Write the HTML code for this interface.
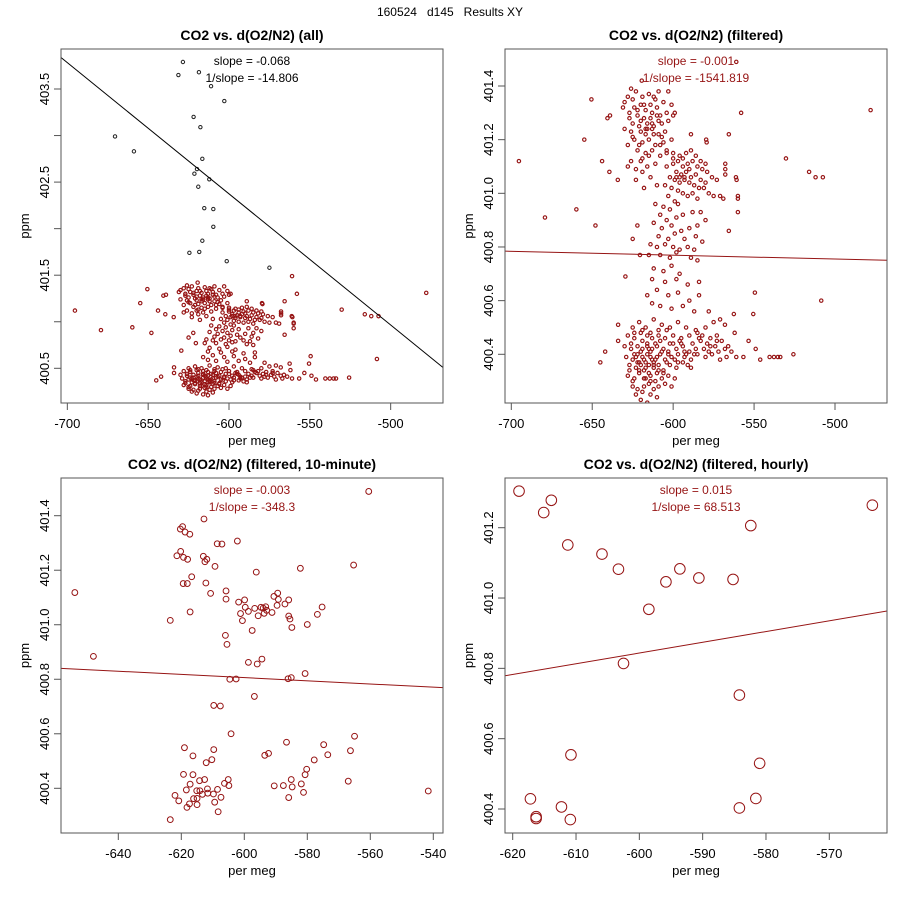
<!DOCTYPE html>
<html><head><meta charset="utf-8"><style>
html,body{margin:0;padding:0;background:#fff}
svg{display:block;font-family:"Liberation Sans",sans-serif}
</style></head><body>
<svg id="chart" width="900" height="900" viewBox="0 0 900 900" xmlns="http://www.w3.org/2000/svg">
<text x="450" y="16" text-anchor="middle" font-size="12" fill="#000" xml:space="preserve">160524   d145   Results XY</text>
</svg>
<script>
// ---- data ----
const filteredX = [-695.3,-679.2,-659.8,-654.9,-650.5,-648,-643.9,-639.4,-640.6,-639,-634.2,-642,-645,-634,-634,-629.5,-625,-620.5,-622.1,-558,-478,-530.3,-516,-512,-507.5,-508.5,-549.5,-550.5,-553.4,-549,-546.2,-540.4,-537.7,-535.3,-533.8,-525.7,-561,-556.6,-565.6,-579.6,-579.3,-589,-567.8,-567.8,-567.8,-561.2,-560.8,-560,-560,-560,-565.6,-562.5,-562,-561,-619.4,
-626,-623,-619,-615,-612,-609,-603,-628,-630,-624,-620,-617,-614,-610,-606,-601,-599,-631,-627,-622,-618,-613,-608,-604,-600,-625,-621,-616,-612,-607,-603,-630,-626,-620,-617,-613,-609,-605,-624,-619,-615,-611,-606,-601,-628,-622,-617,-613,-608,-604,-626,-620,-616,-611,-619,-623,-614,-618,-610,-604,-600,-628,
-604,-600,-597,-594,-591,-588,-585,-582,-579,-576,-573,-598,-595,-592,-589,-586,-583,-580,-602,-599,-596,-593,-590,-587,-584,-581,-605,-601,-597,-594,-591,-588,-585,-578,-575,-571,-569,-603,-599,-596,-592,-589,-594,-600,-586,-590,-593,-596,-598,-583,-580,
-611,-606,-602,-597,-608,-604,-598,-594,-588,-583,-612,-607,-601,-595,-590,-585,-580,-609,-603,-599,-593,-586,-582,-614,-610,-605,-600,-596,-591,-587,-615,-608,-602,-598,-589,-585,-612,-606,-601,-596,-613,-605,-598,-591,-584,-610,-603,-597,-590,-584,-616,-613,-608,-601,-594,-587,-578,
-625,-621,-617,-612,-607,-602,-597,-592,-586,-580,-575,-571,-568,-628,-624,-620,-616,-613,-609,-605,-600,-595,-590,-585,-582,-577,-573,-570,-566,-630,-626,-622,-619,-616,-613,-610,-606,-603,-598,-594,-590,-586,-581,-577,-572,-568,-564,-629,-625,-622,-619,-617,-614,-611,-608,-605,-601,-597,-593,-589,-585,-580,-576,-571,-567,-627,-623,-620,-618,-615,-612,-609,-606,-602,-598,-594,-628,-624,-621,-617,-614,-611,-607,-603,-599,-589,-625,-622,-618,-615,-612,-609,-605,-601,-623,-619,-614,-610,-616,-620,-613,-618,-616,-614,-612,-610,-620,-615,-622,
-626,-624,-621,-619,-617,-615,-613,-611,-609,-607,-604,-602,-599,-596,-593,-591,-588,-583,-579,-574,-627,-625,-623,-621,-618,-616,-614,-612,-610,-608,-606,-603,-600,-597,-595,-592,-587,-584,-578,-573,-624,-619,-614,-609,-604,
-627,-625,-622,-620,-618,-616,-614,-611,-609,-607,-625,-621,-617,-615,-612,-610,-623,-619,-613,-608];
const filteredY = [401.12,400.91,400.94,401.20,401.35,400.88,401.12,401.08,401.28,401.29,401.05,400.41,400.37,400.51,400.45,400.69,400.83,400.77,400.88,401.30,401.31,401.13,401.08,401.06,401.06,400.60,400.63,400.55,400.45,400.42,400.38,400.39,400.39,400.39,400.39,400.40,400.39,400.39,401.22,401.20,401.19,401.22,401.11,401.09,401.07,401.06,401.05,400.99,400.98,400.93,400.86,400.55,400.48,401.49,401.42,
401.39,401.38,401.36,401.37,401.36,401.38,401.38,401.36,401.34,401.32,401.33,401.31,401.33,401.32,401.34,401.33,401.30,401.32,401.30,401.29,401.28,401.30,401.29,401.30,401.29,401.26,401.25,401.26,401.25,401.26,401.27,401.24,401.23,401.23,401.22,401.24,401.22,401.23,401.20,401.19,401.20,401.18,401.19,401.20,401.18,401.16,401.15,401.16,401.14,401.15,401.12,401.12,401.10,401.11,401.08,401.05,401.06,401.02,401.03,401.16,401.13,401.10,
401.10,401.11,401.12,401.10,401.11,401.12,401.10,401.09,401.08,401.06,401.05,401.08,401.07,401.08,401.06,401.07,401.05,401.04,401.06,401.05,401.04,401.05,401.04,401.03,401.02,401.02,401.03,401.02,401.01,401.00,400.99,401.00,400.98,401.00,400.99,400.99,400.98,400.99,400.97,401.14,401.15,401.16,401.13,401.15,401.14,401.09,401.06,401.06,401.06,401.12,401.11,
400.96,400.95,400.94,400.96,400.92,400.90,400.91,400.92,400.93,400.93,400.89,400.87,400.88,400.86,400.87,400.88,400.90,400.84,400.83,400.85,400.83,400.84,400.82,400.81,400.80,400.81,400.80,400.79,400.80,400.79,400.77,400.77,400.76,400.78,400.76,400.75,400.72,400.71,400.73,400.70,400.68,400.67,400.68,400.66,400.67,400.64,400.62,400.63,400.60,400.62,400.62,400.59,400.58,400.57,400.58,400.56,400.56,
400.50,400.52,400.50,400.53,400.51,400.50,400.52,400.50,400.49,400.50,400.52,400.53,400.51,400.47,400.46,400.48,400.47,400.46,400.47,400.46,400.47,400.46,400.47,400.48,400.47,400.46,400.45,400.45,400.43,400.43,400.42,400.43,400.42,400.44,400.42,400.43,400.42,400.41,400.42,400.43,400.41,400.42,400.42,400.43,400.41,400.42,400.41,400.39,400.38,400.40,400.39,400.37,400.39,400.38,400.40,400.38,400.39,400.40,400.39,400.38,400.40,400.39,400.40,400.38,400.39,400.36,400.35,400.36,400.34,400.36,400.35,400.36,400.34,400.36,400.35,400.37,400.32,400.31,400.33,400.31,400.32,400.30,400.31,400.32,400.31,400.35,400.28,400.27,400.28,400.29,400.27,400.28,400.29,400.28,400.25,400.26,400.25,400.24,400.22,400.23,400.21,400.38,400.40,400.41,400.37,400.39,400.41,400.33,400.37,
400.44,400.40,400.37,400.45,400.35,400.42,400.38,400.44,400.34,400.41,400.37,400.44,400.38,400.45,400.41,400.36,400.44,400.45,400.44,400.43,400.34,400.30,400.39,400.34,400.31,400.43,400.30,400.36,400.33,400.45,400.33,400.40,400.44,400.37,400.44,400.40,400.40,400.46,400.41,400.47,400.48,400.49,400.48,400.49,400.49,
401.28,401.35,401.31,401.27,401.33,401.24,401.28,401.35,401.27,401.21,401.21,401.18,401.24,401.14,401.22,401.29,401.09,401.13,401.26,401.18];
const outlierX = [-628.5,-631.3,-618.6,-611.1,-602.9,-621.9,-617.7,-670.5,-658.8,-616.5,-619.8,-621.4,-612.2,-619,-615.3,-609.7,-609.7,-616.5,-624.5,-618.4,-601.4,-575];
const outlierY = [403.79,403.65,403.68,403.53,403.37,403.2,403.09,402.99,402.83,402.75,402.64,402.59,402.53,402.45,402.22,402.21,402.02,401.87,401.74,401.75,401.65,401.58];
const tenMinX = [-653.8,-647.9,-623.5,-619.6,-620.3,-618.8,-617.3,-620.2,-621.4,-619.3,-618.0,-612.8,-608.6,-607.1,-602.2,-619.4,-618.1,-616.7,-612.2,-613.0,-612.5,-611.9,-609.3,-610.7,-617.2,-605.8,-605.8,-606.0,-605.5,-601.8,-601.2,-599.9,-599.7,-598.7,-600.6,-597.5,-596.7,-595.6,-594.7,-594.0,-593.2,-593.7,-592.9,-591.2,-590.6,-589.4,-589.2,-589.6,-587.1,-585.9,-585.9,-585.5,-584.9,-596.2,-582.2,-580.0,-576.8,-575.3,-565.3,-560.5,-598.7,-595.9,-594.4,-604.6,-602.6,-596.8,-609.7,-607.6,-586.1,-585.1,-580.7,-604.2,-619.0,-616.3,-609.7,-610.3,-612.1,-586.6,-574.8,-573.5,-577.8,-566.3,-565.0,-593.5,-592.3,-619.3,-616.3,-617.2,-614.2,-612.6,-618.4,-615.1,-611.7,-608.5,-606.3,-605.1,-604.9,-622.0,-620.8,-618.2,-617.4,-616.1,-615.0,-615.0,-613.3,-611.6,-609.8,-609.4,-607.4,-608.3,-623.5,-590.5,-587.6,-585.1,-584.8,-581.9,-581.2,-585.9,-580.7,-580.2,-567.0,-541.6,-614.1];
const tenMinY = [401.118,400.884,401.016,401.36,401.351,401.34,401.332,401.269,401.253,401.247,401.24,401.388,401.297,401.296,401.307,401.151,401.151,401.176,401.153,401.251,401.231,401.24,401.214,401.115,401.047,401.124,401.094,400.961,400.928,401.083,401.041,401.091,401.064,401.049,401.015,400.979,401.06,401.033,401.064,401.061,401.066,401.042,401.053,401.045,401.104,401.116,401.093,401.071,401.076,401.091,401.032,401.021,400.990,401.193,401.207,401.001,401.038,401.065,401.219,401.489,400.862,400.856,400.874,400.80,400.801,400.737,400.704,400.702,400.802,400.806,400.821,400.60,400.549,400.519,400.542,400.505,400.494,400.569,400.56,400.523,400.504,400.538,400.591,400.521,400.528,400.451,400.45,400.415,400.428,400.432,400.394,400.391,400.398,400.396,400.418,400.432,400.41,400.374,400.354,400.33,400.343,400.362,400.363,400.34,400.378,400.382,400.379,400.349,400.367,400.314,400.285,400.409,400.41,400.432,400.405,400.416,400.385,400.366,400.45,400.47,400.426,400.39,400.391];
const hourlyX = [-619.0,-615.1,-613.9,-611.3,-605.9,-603.3,-602.5,-598.5,-595.8,-593.6,-590.6,-585.2,-582.4,-563.2,-584.2,-581.0,-581.6,-584.2,-610.8,-617.2,-616.3,-616.3,-612.3,-610.9];
const hourlyY = [401.304,401.243,401.278,401.151,401.125,401.082,400.814,400.968,401.046,401.083,401.057,401.053,401.206,401.264,400.724,400.53,400.43,400.403,400.554,400.429,400.378,400.373,400.406,400.37];
const xTicks1 = [-700,-650,-600,-550,-500];
const yTicks1 = [400.5,401,401.5,402,402.5,403,403.5];
const yLabels1 = ["400.5","","401.5","","402.5","","403.5"];
const xTicks2 = [-700,-650,-600,-550,-500];
const yTicks2 = [400.4,400.6,400.8,401.0,401.2,401.4];
const yLabels2 = ["400.4","400.6","400.8","401.0","401.2","401.4"];
const xTicks3 = [-640,-620,-600,-580,-560,-540];
const yTicks3 = [400.4,400.6,400.8,401.0,401.2,401.4];
const yLabels3 = ["400.4","400.6","400.8","401.0","401.2","401.4"];
const xTicks4 = [-620,-610,-600,-590,-580,-570];
const yTicks4 = [400.4,400.6,400.8,401.0,401.2];
const yLabels4 = ["400.4","400.6","400.8","401.0","401.2"];
const fitSlope = [-0.01409,-0.000144,-0.000585,0.003054];
const fitIntercept = [393.92,400.683,400.455,402.676];
const slopeText = ["slope = -0.068","slope = -0.001","slope = -0.003","slope = 0.015"];
const invSlopeText = ["1/slope = -14.806","1/slope = -1541.819","1/slope = -348.3","1/slope = 68.513"];
const titles = ["CO2 vs. d(O2/N2) (all)","CO2 vs. d(O2/N2) (filtered)","CO2 vs. d(O2/N2) (filtered, 10-minute)","CO2 vs. d(O2/N2) (filtered, hourly)"];

// ---- drawing ----
const NS="http://www.w3.org/2000/svg";
const svg=document.getElementById('chart');
const RED="#961414";
function mk(tag,attrs,parent){const e=document.createElementNS(NS,tag);for(const k in attrs)e.setAttribute(k,attrs[k]);(parent||svg).appendChild(e);return e;}
function lin(v0,p0,v1,p1){return v=>p0+(v-v0)*(p1-p0)/(v1-v0);}
const panels=[
 {box:[61,49,443,403],sx:lin(-700,67.33,-500,390.67),sy:lin(403.5,89,400.5,368.3),xt:xTicks1,yt:yTicks1,yl:yLabels1,r:1.7,sw:1.15,tc:"#000"},
 {box:[505,49,887,403],sx:lin(-700,511.3,-500,835),sy:lin(401.4,86,400.4,354.3),xt:xTicks2,yt:yTicks2,yl:yLabels2,r:1.7,sw:1.15,tc:RED},
 {box:[61,478,443,833],sx:lin(-640,118.3,-540,433.3),sy:lin(401.4,515.7,400.4,788.3),xt:xTicks3,yt:yTicks3,yl:yLabels3,r:2.9,sw:1,tc:RED},
 {box:[505,478,887,833],sx:lin(-620,512.7,-570,829.3),sy:lin(401.2,527.7,400.4,809),xt:xTicks4,yt:yTicks4,yl:yLabels4,r:5.3,sw:1,tc:RED}
];
panels.forEach((p,i)=>{
 const [x0,y0,x1,y1]=p.box;
 const g=mk('g',{});
 
 
 const cx=(x0+x1)/2;
 const t=mk('text',{x:cx,y:y0-9,'text-anchor':'middle','font-size':'14','font-weight':'bold'},g);t.textContent=titles[i];
 
 
 const clipId='clip'+i;
 const cp=mk('clipPath',{id:clipId},g);mk('rect',{x:x0,y:y0,width:x1-x0,height:y1-y0},cp);
 const pts=mk('g',{'clip-path':'url(#'+clipId+')'},g);
 
 
 let xs,ys;
 if(i<2){xs=filteredX;ys=filteredY;}else if(i===2){xs=tenMinX;ys=tenMinY;}else{xs=hourlyX;ys=hourlyY;}
 if(i===0){outlierX.forEach((v,k)=>{const c=mk('circle',{cx:p.sx(v),cy:p.sy(outlierY[k]),r:p.r,fill:'none',stroke:'#222','stroke-width':'1'},pts);
   
   });}
 xs.forEach((v,k)=>{const c=mk('circle',{cx:p.sx(v),cy:p.sy(ys[k]),r:p.r,fill:'none',stroke:RED,'stroke-width':p.sw},pts);
   
   });
 const xa=-800,xb=-400;
 const ln=mk('line',{x1:p.sx(xa),y1:p.sy(fitIntercept[i]+fitSlope[i]*xa),x2:p.sx(xb),y2:p.sy(fitIntercept[i]+fitSlope[i]*xb),stroke:i===0?'#000':RED,'stroke-width':'1','clip-path':'url(#'+clipId+')'},g);
 
 
 const s1=mk('text',{x:cx,y:y0+16,'text-anchor':'middle','font-size':'12',fill:p.tc},g);s1.textContent=slopeText[i];
 
 
 const s2=mk('text',{x:cx,y:y0+33,'text-anchor':'middle','font-size':'12',fill:p.tc},g);s2.textContent=invSlopeText[i];
 
 
 const fr=mk('rect',{x:x0,y:y0,width:x1-x0,height:y1-y0,fill:'none',stroke:'#555','stroke-width':'1'},g);
 
 
 const xa_g=mk('g',{},g);
 
 
 mk('line',{x1:p.sx(p.xt[0]),y1:y1,x2:p.sx(p.xt[p.xt.length-1]),y2:y1,stroke:'#555'},xa_g);
 p.xt.forEach(v=>{const X=p.sx(v);mk('line',{x1:X,y1:y1,x2:X,y2:y1+7,stroke:'#555'},xa_g);
  const tl=mk('text',{x:X,y:y1+25,'text-anchor':'middle','font-size':'13'},xa_g);tl.textContent=String(v);
  
  });
 const xt=mk('text',{x:cx,y:y1+42,'text-anchor':'middle','font-size':'13'},g);xt.textContent='per meg';
 
 
 const ya_g=mk('g',{},g);
 
 
 mk('line',{x1:x0,y1:p.sy(p.yt[0]),x2:x0,y2:p.sy(p.yt[p.yt.length-1]),stroke:'#555'},ya_g);
 p.yt.forEach((v,k)=>{const Y=p.sy(v);mk('line',{x1:x0,y1:Y,x2:x0-7,y2:Y,stroke:'#555'},ya_g);
  if(p.yl[k]){const tl=mk('text',{x:x0-12,y:Y,'text-anchor':'middle','font-size':'13',transform:'rotate(-90 '+(x0-12)+' '+Y+')'},ya_g);tl.textContent=p.yl[k];
  
  }});
 const yc=(y0+y1)/2, yx=x0-32;
 const yt=mk('text',{x:yx,y:yc,'text-anchor':'middle','font-size':'13',transform:'rotate(-90 '+yx+' '+yc+')'},g);yt.textContent='ppm';
 
 
});
</script>
</body></html>
